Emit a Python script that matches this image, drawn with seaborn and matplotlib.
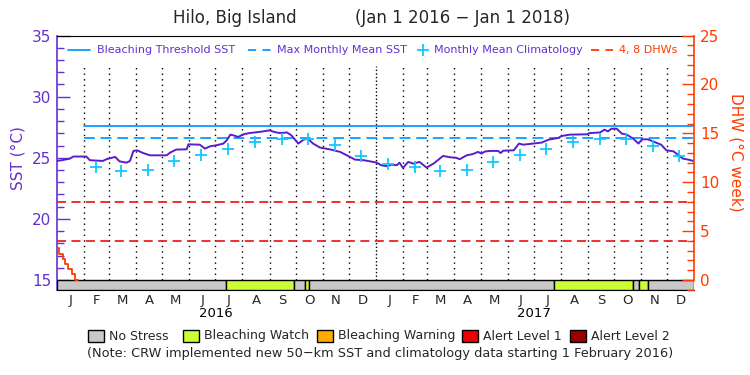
import numpy as np
import pandas as pd
import matplotlib
matplotlib.use("Agg")
import matplotlib.pyplot as plt
import seaborn as sns
import matplotlib.dates as mdates
import matplotlib.transforms as mtrans
from matplotlib.patches import Rectangle
from matplotlib.lines import Line2D
from matplotlib.ticker import MultipleLocator

sns.set_style("white")
plt.rcParams["font.family"] = ["DejaVu Sans"]
plt.rcParams["ytick.direction"] = "in"
plt.rcParams["xtick.direction"] = "in"

# ---------------- data ----------------
start_date = "2016-01-01"
end_date = "2018-01-01"

# daily SST (day offset from Jan 1 2016, deg C)
sst_day = [0, 6, 15, 19, 34, 38, 53, 57, 67, 72, 80, 84, 88, 92, 99, 107, 126, 130,
           137, 149, 151, 164, 170, 176, 183, 191, 195, 199, 204, 208, 214, 221, 233,
           244, 250, 256, 264, 269, 277, 283, 288, 294, 302, 313, 325, 334, 342, 352,
           359, 367, 372, 378, 384, 390, 393, 397, 403, 409, 416, 424, 432, 443, 451,
           458, 462, 470, 477, 483, 487, 491, 497, 506, 509, 512, 524, 530, 535, 546,
           556, 564, 575, 579, 588, 608, 611, 623, 628, 632, 636, 642, 648, 653, 661,
           667, 671, 678, 688, 693, 699, 707, 712, 718, 724, 730]
sst_value = [24.74, 24.80, 24.93, 25.10, 25.10, 24.80, 24.74, 24.88, 25.07, 24.71, 24.60,
             24.74, 25.56, 25.61, 25.39, 25.20, 25.20, 25.42, 25.67, 25.69, 26.10, 26.07,
             25.75, 25.94, 26.02, 26.16, 26.43, 26.89, 26.81, 26.70, 26.92, 27.02, 27.12,
             27.24, 27.10, 27.02, 27.07, 26.84, 26.16, 26.48, 26.56, 26.16, 25.83, 25.69,
             25.48, 25.15, 24.85, 24.80, 24.71, 24.60, 24.39, 24.31, 24.44, 24.39, 24.60,
             24.17, 24.66, 24.52, 24.66, 24.20, 24.52, 25.15, 25.04, 25.00, 24.88, 25.20,
             25.30, 25.48, 25.34, 25.51, 25.56, 25.56, 25.39, 25.58, 25.61, 26.16, 26.07,
             26.16, 26.24, 26.48, 26.62, 26.78, 26.89, 26.92, 27.02, 27.07, 27.30, 27.16,
             27.38, 27.38, 26.97, 26.92, 26.56, 26.16, 26.51, 26.51, 26.21, 26.07, 25.61,
             25.53, 25.26, 24.93, 24.85, 24.74]

# monthly mean climatology (plotted mid-month)
clim_dates = ["2016-02-15", "2016-03-15", "2016-04-15", "2016-05-15", "2016-06-15",
              "2016-07-15", "2016-08-15", "2016-09-15", "2016-10-15", "2016-11-15",
              "2016-12-15", "2017-01-15", "2017-02-15", "2017-03-15", "2017-04-15",
              "2017-05-15", "2017-06-15", "2017-07-15", "2017-08-15", "2017-09-15",
              "2017-10-15", "2017-11-15", "2017-12-15"]
clim_values = [24.25, 23.95, 24.01, 24.71, 25.26, 25.75, 26.29, 26.56, 26.56, 26.02, 25.15,
               24.52, 24.25, 23.95, 24.01, 24.68, 25.26, 25.72, 26.29, 26.56, 26.56, 26.00,
               25.17]

mmm_sst = 26.6
threshold_sst = 27.6
threshold_start = "2016-02-01"
dhw_levels = [4, 8]

# degree heating weeks (day offset, DHW)
dhw_day = [0, 3, 7, 10, 13, 17, 21, 24]
dhw_value = [3.3, 2.7, 2.1, 1.6, 1.1, 0.6, 0.0, 0.0]

# bleaching alert (stress) periods
stress_start = ["2016-01-01", "2016-07-13", "2016-09-29", "2016-10-12", "2016-10-16",
                "2017-07-24", "2017-10-23", "2017-10-30", "2017-11-09"]
stress_end = ["2016-07-13", "2016-09-29", "2016-10-12", "2016-10-16", "2017-07-24",
              "2017-10-23", "2017-10-30", "2017-11-09", "2018-01-01"]
stress_level = [0, 1, 0, 1, 0, 1, 0, 1, 0]

stress_names = ["No Stress", "Bleaching Watch", "Bleaching Warning", "Alert Level 1", "Alert Level 2"]
stress_colors = ["#c8c8c8", "#ccff33", "#ffaa00", "#ee0000", "#990000"]

month_letters = list("JFMAMJJASOND") * 2
year_labels = ["2016", "2017"]

# ---------------- styling ----------------
PURPLE = "#5a1ec8"
AXPURPLE = "#6430d0"
BLUE = "#0a9bff"
CYAN = "#10c8ff"
RED = "#ee2020"
ORANGE = "#ff3c00"

t0 = pd.Timestamp(start_date)
t1 = pd.Timestamp(end_date)

sst_df = pd.DataFrame({"date": t0 + pd.to_timedelta(sst_day, unit="D"), "sst": sst_value})
clim_df = pd.DataFrame({"date": pd.to_datetime(clim_dates), "clim": clim_values})
dhw_df = pd.DataFrame({"date": t0 + pd.to_timedelta(dhw_day, unit="D"), "dhw": dhw_value})

fig = plt.figure(figsize=(7.5, 3.75), dpi=100)
ax = fig.add_axes([0.0756, 0.2267, 0.8501, 0.6786])
sst_lo = 15 - 10 / 12.27
ax.set_ylim(sst_lo, 35)
ax.set_xlim(t0, t1)

# stress bar
for s, e, lv in zip(stress_start, stress_end, stress_level):
    xs = mdates.date2num(pd.Timestamp(s))
    xe = mdates.date2num(pd.Timestamp(e))
    ax.add_patch(Rectangle((xs, sst_lo), xe - xs, 15 - sst_lo, facecolor=stress_colors[lv],
                           edgecolor="black", lw=1.0, zorder=3))

# month boundary dotted lines
month_starts = pd.date_range(t0, t1, freq="MS")
for m in month_starts[1:-1]:
    ls = (0, (1, 1.6)) if m.month == 1 else (0, (1, 3))
    ax.vlines(m, 15, 32.5, colors="black", linestyles=[ls], lw=1.0, zorder=1)

# threshold & MMM
ax.plot([pd.Timestamp(threshold_start), t1], [threshold_sst, threshold_sst], color=BLUE, lw=1.3, zorder=2)
ax.plot([pd.Timestamp(threshold_start), t1], [mmm_sst, mmm_sst], color=BLUE, lw=1.3,
        ls=(0, (6, 3.2)), zorder=2)

# SST and climatology
sns.lineplot(data=sst_df, x="date", y="sst", ax=ax, color=PURPLE, lw=1.4, zorder=4)
sns.scatterplot(data=clim_df, x="date", y="clim", ax=ax, marker="+", s=85, color=CYAN,
                linewidth=1.3, zorder=5)

ax.set_xlabel("")
ax.set_ylabel("")

# right axis (DHW)
ax2 = ax.twinx()
ax2.set_ylim((sst_lo - 15) * 1.25, 25)
for lv in dhw_levels:
    ax2.plot([t0, t1], [lv, lv], color=RED, lw=1.3, ls=(0, (5, 3)), zorder=2)
sns.lineplot(data=dhw_df, x="date", y="dhw", ax=ax2, color=ORANGE, lw=1.3,
             drawstyle="steps-post", zorder=4)
ax2.set_xlim(t0, t1)
ax2.set_ylabel("")

# x ticks: month letters at mid-month
mids = [month_starts[i] + (month_starts[i + 1] - month_starts[i]) / 2 for i in range(24)]
ax.set_xticks(mids)
ax.set_xticklabels(month_letters, fontsize=9.5)
ax.tick_params(axis="x", length=0, pad=3)

# left axis
ax.set_yticks([15, 20, 25, 30, 35])
ax.yaxis.set_minor_locator(MultipleLocator(1))
ax.tick_params(axis="y", which="major", direction="in", length=9, width=1, colors=AXPURPLE,
               labelsize=11, pad=4, left=True, right=False)
ax.tick_params(axis="y", which="minor", direction="in", length=5, width=1, colors=AXPURPLE,
               left=True, right=False)
ax.spines["left"].set_color(AXPURPLE)
ax.spines["left"].set_linewidth(1.2)
ax.spines["right"].set_visible(False)
ax.spines["top"].set_color("black")
ax.spines["bottom"].set_color("black")

ax2.set_yticks([0, 5, 10, 15, 20, 25])
ax2.yaxis.set_minor_locator(MultipleLocator(1))
ax2.tick_params(axis="y", which="major", direction="in", length=9, width=1, colors=ORANGE,
                labelsize=11, pad=4, right=True, left=False)
ax2.tick_params(axis="y", which="minor", direction="in", length=5, width=1, colors=ORANGE,
                right=True, left=False)
ax2.tick_params(axis="x", length=0, labelbottom=False)
ax2.spines["right"].set_color(ORANGE)
ax2.spines["right"].set_linewidth(1.2)
ax2.spines["right"].set_bounds(0, 25)
ax2.spines["left"].set_visible(False)
ax2.spines["top"].set_visible(False)
ax2.spines["bottom"].set_visible(False)

# year labels
trans = mtrans.blended_transform_factory(ax.transData, fig.transFigure)
for yl in year_labels:
    ax.text(pd.Timestamp(yl + "-07-01"), 0.165, yl, transform=trans, ha="center", va="center",
            fontsize=9.5, color="black")

# title
fig.text(235 / 750, 1 - 18 / 375, "Hilo, Big Island", ha="center", va="center", fontsize=12)
fig.text(463 / 750, 1 - 18 / 375, "(Jan 1 2016 \u2212 Jan 1 2018)", ha="center", va="center", fontsize=12)

# axis labels
fig.text(18 / 750, 1 - 158 / 375, "SST (\u00b0C)", rotation=90, ha="center", va="center",
         fontsize=11, color=AXPURPLE)
fig.text(736 / 750, 1 - 152 / 375, "DHW (\u00b0C week)", rotation=270, ha="center", va="center",
         fontsize=11, color=ORANGE)

# top legend
ly = 1 - 50 / 375
fig.add_artist(Line2D([68 / 750, 90 / 750], [ly, ly], color=BLUE, lw=1.3, transform=fig.transFigure))
fig.text(97 / 750, ly, "Bleaching Threshold SST", color=AXPURPLE, fontsize=8, va="center")
fig.add_artist(Line2D([248 / 750, 271 / 750], [ly, ly], color=BLUE, lw=1.3, ls=(0, (4.5, 3.5)),
                      transform=fig.transFigure))
fig.text(277 / 750, ly, "Max Monthly Mean SST", color=AXPURPLE, fontsize=8, va="center")
fig.add_artist(Line2D([423 / 750], [ly], color=CYAN, marker="+", ms=8, mew=1.3, lw=0,
                      transform=fig.transFigure))
fig.text(434 / 750, ly, "Monthly Mean Climatology", color=AXPURPLE, fontsize=8, va="center")
fig.add_artist(Line2D([591 / 750, 613 / 750], [ly, ly], color=ORANGE, lw=1.3, ls=(0, (4.5, 3.5)),
                      transform=fig.transFigure))
fig.text(619 / 750, ly, "4, 8 DHWs", color=ORANGE, fontsize=8, va="center")

# bottom legend
box_x = [88, 183, 317, 462, 570]
by = 1 - 336 / 375
for bx, name, col in zip(box_x, stress_names, stress_colors):
    fig.add_artist(Rectangle((bx / 750, by - 6 / 375), 16 / 750, 12 / 375, facecolor=col,
                             edgecolor="black", lw=1.0, transform=fig.transFigure))
    fig.text((bx + 21) / 750, by, name, fontsize=9, va="center", ha="left")

fig.text(380 / 750, 1 - 354 / 375,
         "(Note: CRW implemented new 50\u2212km SST and climatology data starting 1 February 2016)",
         fontsize=9.3, ha="center", va="center")

fig.savefig("out.png", dpi=100)
